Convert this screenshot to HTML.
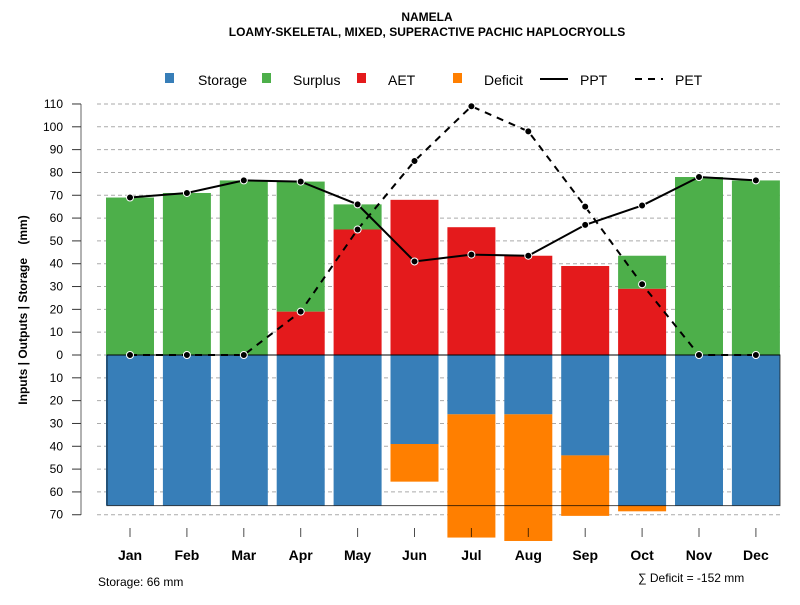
<!DOCTYPE html>
<html><head><meta charset="utf-8"><style>
body{margin:0;background:#fff}
svg{font-family:"Liberation Sans",Arial,sans-serif}
</style></head><body>
<svg id="c" width="800" height="600" xmlns="http://www.w3.org/2000/svg">
<text x="427" y="21" text-anchor="middle" font-size="12" font-weight="bold">NAMELA</text>
<text x="427" y="36" text-anchor="middle" font-size="12" font-weight="bold">LOAMY-SKELETAL, MIXED, SUPERACTIVE PACHIC HAPLOCRYOLLS</text>
<g id="legend">
<rect x="165" y="73" width="9" height="10" fill="#377eb8"/>
<text x="198" y="85" font-size="14">Storage</text>
<rect x="262" y="73" width="9" height="10" fill="#4daf4a"/>
<text x="293" y="85" font-size="14">Surplus</text>
<rect x="357" y="73" width="9" height="10" fill="#e41a1c"/>
<text x="388" y="85" font-size="14">AET</text>
<rect x="453" y="73" width="9" height="10" fill="#ff7f00"/>
<text x="484" y="85" font-size="14">Deficit</text>
<line x1="540" y1="79" x2="568" y2="79" stroke="#000" stroke-width="2"/>
<text x="580" y="85" font-size="14">PPT</text>
<line x1="635" y1="79" x2="663" y2="79" stroke="#000" stroke-width="2" stroke-dasharray="7,6"/>
<text x="675" y="85" font-size="14">PET</text>
</g>
<text transform="translate(27,310) rotate(-90)" text-anchor="middle" font-size="12" font-weight="bold" xml:space="preserve" style="white-space:pre">Inputs | Outputs | Storage    (mm)</text>
<text x="98" y="586" font-size="12">Storage: 66 mm</text>
<text x="638" y="582" font-size="12">∑ Deficit = -152 mm</text>
<line x1="81" y1="104" x2="81" y2="515" stroke="#666"/>
<g id="grid"></g><g id="bars"></g><g id="lines"></g><g id="axes"></g>
</svg>
<script>
const months=["Jan","Feb","Mar","Apr","May","Jun","Jul","Aug","Sep","Oct","Nov","Dec"];
const ppt=[69,71,76.5,76,66,41,44,43.5,57,65.5,78,76.5];
const pet=[0,0,0,19,55,85,109,98,65,31,0,0];
const aet=[0,0,0,19,55,68,56,43.5,39,29,0,0];
const surplusTop=[69,71,76.5,76,66,0,0,0,0,43.5,78,76.5];
const storage=[66,66,66,66,66,39,26,26,44,66,66,66];
const deficit=[0,0,0,0,0,16.5,54,55.5,26.5,2.5,0,0];
const yTicks=[110,100,90,80,70,60,50,40,30,20,10,0,10,20,30,40,50,60,70];
const storageMax=66;
const NS="http://www.w3.org/2000/svg";
const y=v=>355-v*2.282;
const x=i=>130+i*56.9;
const bw=48;
function mk(g,t,a){const e=document.createElementNS(NS,t);for(const k in a)e.setAttribute(k,a[k]);document.getElementById(g).appendChild(e);return e;}
yTicks.forEach((t,i)=>{const v=i<=11?t:-t;
 const l=mk("grid","line",{x1:97,x2:780,y1:y(v),y2:y(v),stroke:"#aaa","stroke-dasharray":"4,3"});
 
 
 const tx=mk("axes","text",{x:63,y:y(v)+4,"font-size":12,"text-anchor":"end"});tx.textContent=t;
 
 
 const tk=mk("axes","line",{x1:72,x2:81,y1:y(v),y2:y(v),stroke:"#333"});
 
 
});
months.forEach((m,i)=>{const cx=x(i),x0=cx-bw/2;
 if(surplusTop[i]>0){const r=mk("bars","rect",{x:x0,width:bw,y:y(surplusTop[i]),height:y(aet[i])-y(surplusTop[i]),fill:"#4daf4a"});
  
  }
 if(aet[i]>0){const r=mk("bars","rect",{x:x0,width:bw,y:y(aet[i]),height:y(0)-y(aet[i]),fill:"#e41a1c"});
  
  }
 const s=mk("bars","rect",{x:x0,width:bw,y:y(0),height:y(-storage[i])-y(0),fill:"#377eb8"});
 
 
 if(deficit[i]>0){const r=mk("bars","rect",{x:x0,width:bw,y:y(-storage[i]),height:y(-storage[i]-deficit[i])-y(-storage[i]),fill:"#ff7f00"});
  
  }
 const tk=mk("axes","line",{x1:cx,x2:cx,y1:528,y2:537,stroke:"#000","stroke-opacity":0.7});
 
 
 const tx=mk("axes","text",{x:cx,y:560,"font-size":14,"font-weight":"bold","text-anchor":"middle"});tx.textContent=m;
 
 
});
const zl=mk("lines","line",{x1:107,x2:780,y1:y(0),y2:y(0),stroke:"#000"});


const sl=mk("lines","rect",{x:107,y:y(0),width:673,height:y(-storageMax)-y(0),fill:"none",stroke:"#000","stroke-opacity":0.7});


function series(vals,dash,name){
 const p=mk("lines","polyline",{points:vals.map((v,i)=>x(i)+","+y(v)).join(" "),fill:"none",stroke:"#000","stroke-width":2,"stroke-dasharray":dash});
 
 
 vals.forEach((v,i)=>{const c=mk("lines","circle",{cx:x(i),cy:y(v),r:3.5,fill:"#000",stroke:"#fff","stroke-width":1});
  
  });
}
series(pet,"7,6","pet");
series(ppt,"none","ppt");
</script>
</body></html>
